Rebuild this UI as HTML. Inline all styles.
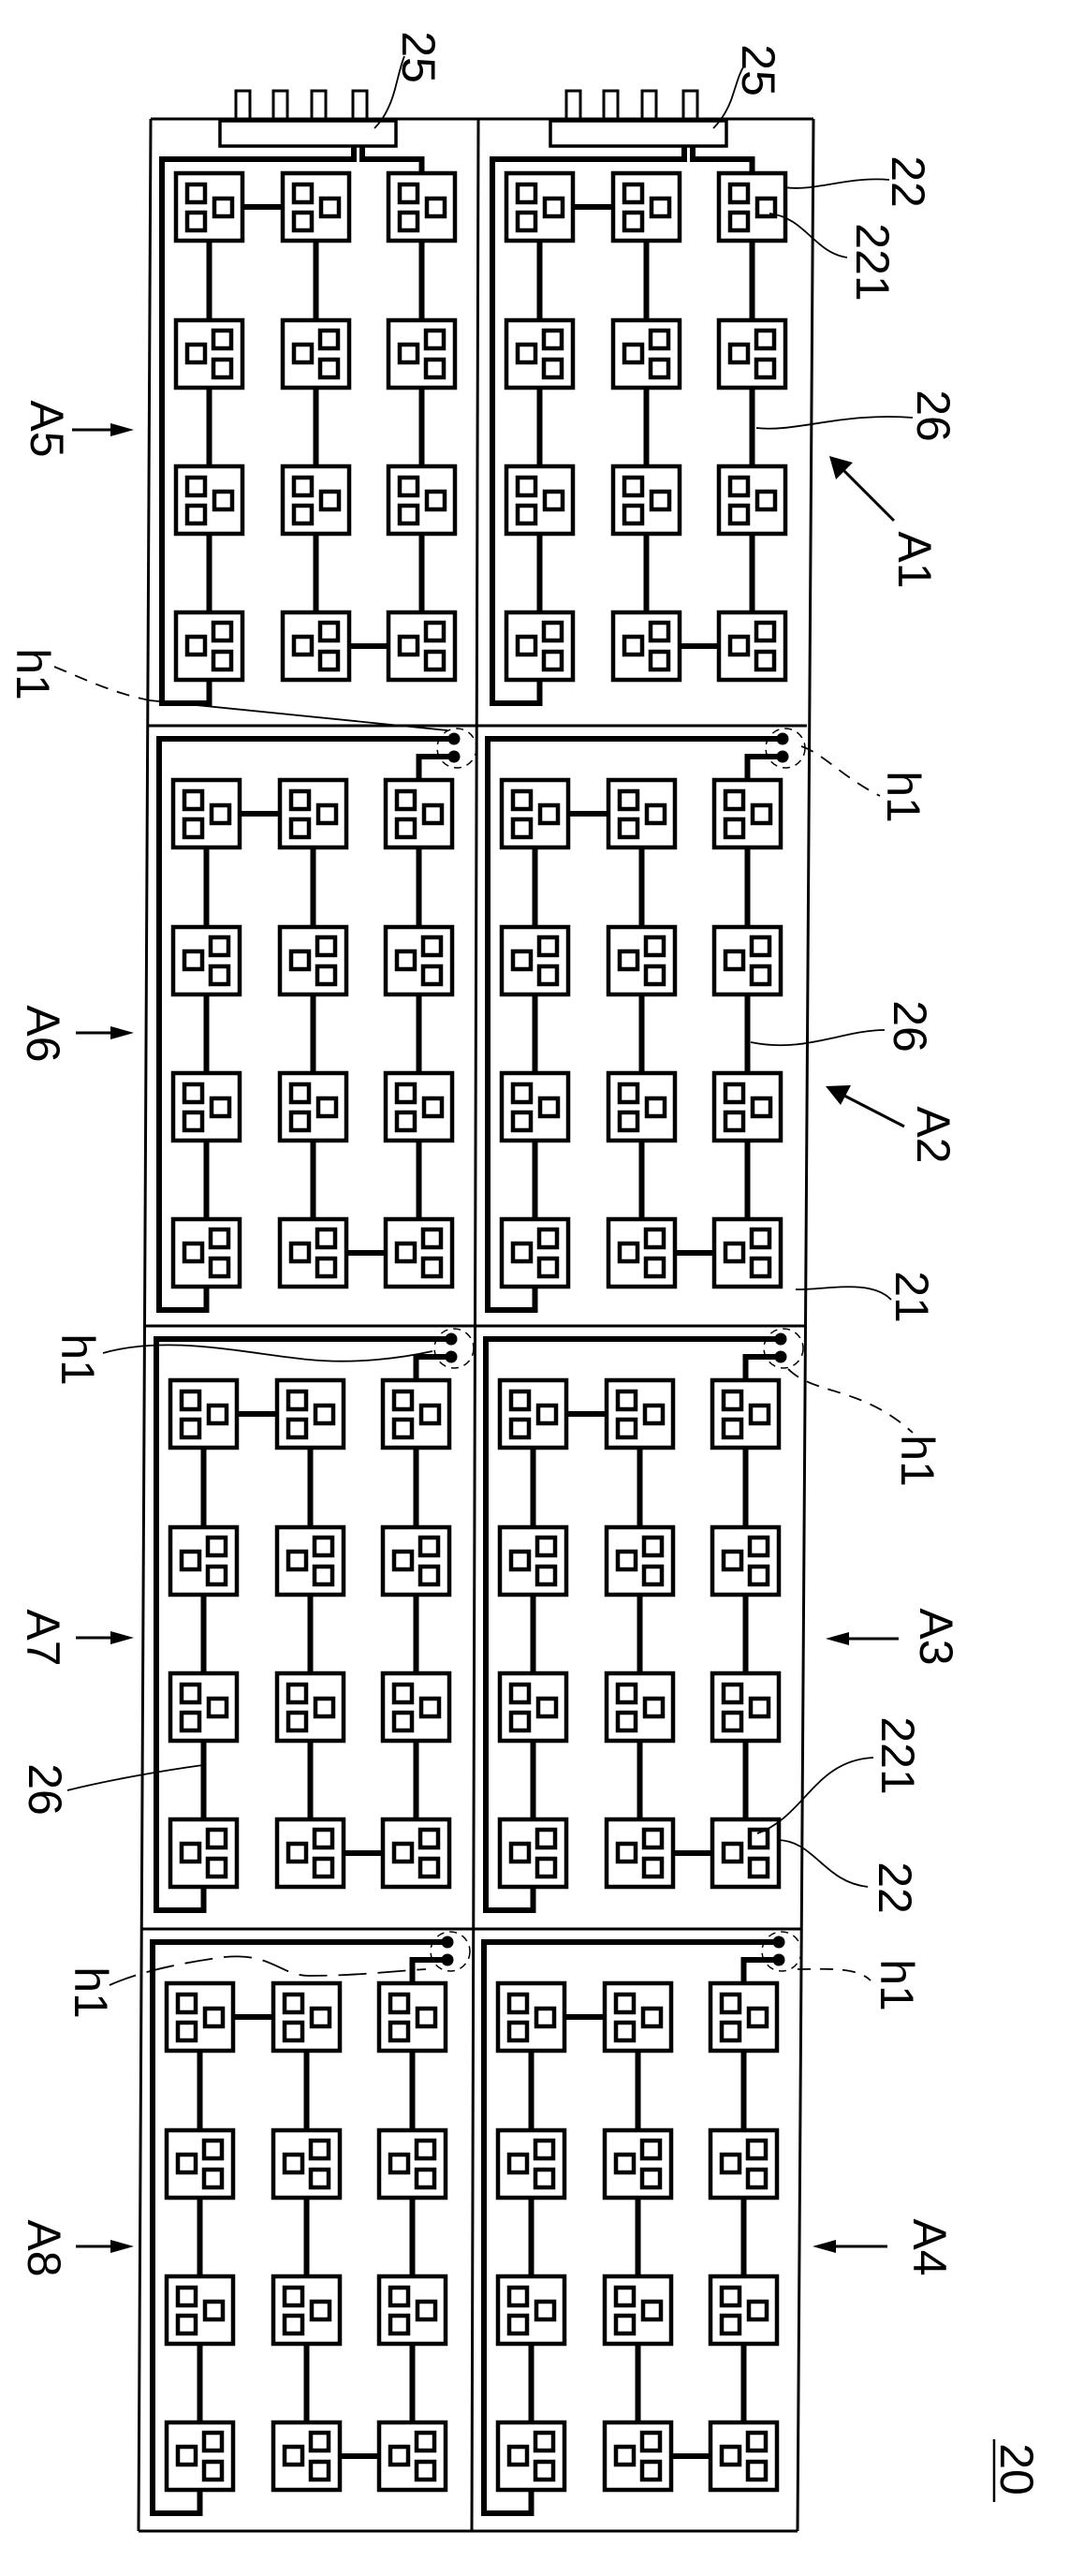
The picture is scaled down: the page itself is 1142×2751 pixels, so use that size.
<!DOCTYPE html>
<html><head><meta charset="utf-8">
<style>
html,body{margin:0;padding:0;background:#fff;}
svg{display:block;}
text{font-family:"Liberation Sans",sans-serif;font-size:50px;fill:#000;}
</style></head>
<body>
<svg width="1142" height="2751" viewBox="0 0 1142 2751" xmlns="http://www.w3.org/2000/svg">
<defs>
  <g id="chipA">
    <rect x="0" y="0" width="71" height="72" fill="#fff" stroke="#000" stroke-width="4.5"/>
    <rect x="12" y="12" width="19" height="19" fill="none" stroke="#000" stroke-width="4.5"/>
    <rect x="12" y="42" width="19" height="19" fill="none" stroke="#000" stroke-width="4.5"/>
    <rect x="41" y="27" width="19" height="19" fill="none" stroke="#000" stroke-width="4.5"/>
  </g>
  <g id="chipB">
    <rect x="0" y="0" width="71" height="72" fill="#fff" stroke="#000" stroke-width="4.5"/>
    <rect x="12" y="26" width="19" height="19" fill="none" stroke="#000" stroke-width="4.5"/>
    <rect x="40" y="11" width="19" height="19" fill="none" stroke="#000" stroke-width="4.5"/>
    <rect x="40" y="42" width="19" height="19" fill="none" stroke="#000" stroke-width="4.5"/>
  </g>
  <g id="grid">
    <g stroke="#000" stroke-width="6" fill="none">
      <path d="M62.5,130V215M62.5,287V371M62.5,443V527"/>
      <path d="M176.5,130V215M176.5,287V371M176.5,443V527"/>
      <path d="M289.5,130V215M289.5,287V371M289.5,443V527"/>
      <path d="M98,94H141M212,563H254"/>
    </g>
    <use href="#chipA" x="27" y="58"/><use href="#chipA" x="141" y="58"/><use href="#chipA" x="254" y="58"/>
    <use href="#chipB" x="27" y="215"/><use href="#chipB" x="141" y="215"/><use href="#chipB" x="254" y="215"/>
    <use href="#chipA" x="27" y="371"/><use href="#chipA" x="141" y="371"/><use href="#chipA" x="254" y="371"/>
    <use href="#chipB" x="27" y="527"/><use href="#chipB" x="141" y="527"/><use href="#chipB" x="254" y="527"/>
  </g>
  <g id="topcell">
    <path d="M217,29V43H12V624H62.5V599" stroke="#000" stroke-width="6" fill="none"/>
    <path d="M226,29V43H289.5V58" stroke="#000" stroke-width="6" fill="none"/>
    <rect x="91" y="-30" width="15" height="30" fill="#fff" stroke="#000" stroke-width="3"/>
    <rect x="131" y="-30" width="15" height="30" fill="#fff" stroke="#000" stroke-width="3"/>
    <rect x="172" y="-30" width="15" height="30" fill="#fff" stroke="#000" stroke-width="3"/>
    <rect x="216" y="-30" width="15" height="30" fill="#fff" stroke="#000" stroke-width="3"/>
    <rect x="74" y="2" width="188" height="27" fill="#fff" stroke="#000" stroke-width="3.5"/>
    <use href="#grid"/>
  </g>
  <g id="cell">
    <path d="M327,14H12V624H62.5V599" stroke="#000" stroke-width="6" fill="none"/>
    <path d="M327,33H289.5V58" stroke="#000" stroke-width="6" fill="none"/>
    <circle cx="327" cy="14" r="6.5" fill="#000"/>
    <circle cx="327" cy="33" r="6.5" fill="#000"/>
    <circle cx="330" cy="24" r="21" fill="none" stroke="#000" stroke-width="1.5" stroke-dasharray="8,6"/>
    <use href="#grid"/>
  </g>
</defs>

<g stroke="#000" stroke-width="3" fill="none">
  <path d="M161,127L148,2703"/>
  <path d="M511,127L504,2703"/>
  <path d="M869,127L852,2703"/>
  <path d="M161,127H869"/>
  <path d="M158,775H862"/>
  <path d="M155,1416H859"/>
  <path d="M151,2060H856"/>
  <path d="M148,2703H852"/>
</g>

<use href="#topcell" x="161" y="127"/>
<use href="#topcell" x="514" y="127"/>
<use href="#cell" x="158" y="775"/>
<use href="#cell" x="509" y="775"/>
<use href="#cell" x="155" y="1416"/>
<use href="#cell" x="507" y="1416"/>
<use href="#cell" x="151" y="2060"/>
<use href="#cell" x="505" y="2060"/>

<g stroke="#000" stroke-width="1.8" fill="none">
  <path d="M400,137C412,125 418,110 422,95C426,80 428,70 432,60"/>
  <path d="M762,137C774,125 780,112 784,98C788,86 790,78 795,70"/>
  <path d="M838,200C870,205 905,188 950,192"/>
  <path d="M822,228C860,232 870,270 905,275"/>
  <path d="M808,457C850,462 900,440 975,446"/>
  <path d="M58,712C90,725 120,740 160,748" stroke-dasharray="14,10"/>
  <path d="M160,748L478,780"/>
  <path d="M856,797C880,805 900,830 940,850" stroke-dasharray="14,10"/>
  <path d="M802,1113C860,1125 900,1100 945,1100"/>
  <path d="M850,1377C880,1378 930,1365 952,1388"/>
  <path d="M110,1445C180,1425 260,1445 330,1452C380,1457 430,1450 462,1443"/>
  <path d="M842,1462C870,1490 920,1480 975,1530" stroke-dasharray="14,10"/>
  <path d="M217,1885C180,1890 120,1900 72,1912"/>
  <path d="M809,1958C860,1940 870,1880 933,1877"/>
  <path d="M830,1965C870,1965 880,2010 927,2015"/>
  <path d="M117,2120C150,2105 200,2095 240,2090C290,2085 300,2110 330,2110C380,2110 420,2105 455,2103" stroke-dasharray="30,12"/>
  <path d="M852,2103C880,2103 915,2100 930,2115" stroke-dasharray="14,10"/>
  <path d="M1062,2605V2672" stroke-width="2.5"/>
</g>

<g stroke="#000" stroke-width="3" fill="#000">
  <line x1="77" y1="459" x2="125" y2="459"/><polygon points="143,459 118,452 118,466" stroke="none"/>
  <line x1="81" y1="1103" x2="125" y2="1103"/><polygon points="143,1103 118,1096 118,1110" stroke="none"/>
  <line x1="81" y1="1749" x2="125" y2="1749"/><polygon points="143,1749 118,1742 118,1756" stroke="none"/>
  <line x1="81" y1="2399" x2="125" y2="2399"/><polygon points="143,2399 118,2392 118,2406" stroke="none"/>
  <line x1="960" y1="1750" x2="900" y2="1750"/><polygon points="882,1750 907,1743 907,1757" stroke="none"/>
  <line x1="948" y1="2399" x2="886" y2="2399"/><polygon points="868,2399 893,2392 893,2406" stroke="none"/>
  <line x1="955" y1="556" x2="900" y2="501"/><polygon points="886,487 893,512 911,494" stroke="none"/>
  <line x1="966" y1="1203" x2="898" y2="1168"/><polygon points="882,1160 898,1180 909,1159" stroke="none"/>
</g>

<g text-anchor="middle" dominant-baseline="central">
  <text transform="translate(447,61) rotate(90)">25</text>
  <text transform="translate(810,75) rotate(90)">25</text>
  <text transform="translate(970,194) rotate(90)">22</text>
  <text transform="translate(932,280) rotate(90)">221</text>
  <text transform="translate(997,444) rotate(90)">26</text>
  <text transform="translate(977,598) rotate(90)">A1</text>
  <text transform="translate(50,458) rotate(90)">A5</text>
  <text transform="translate(35,720) rotate(90)">h1</text>
  <text transform="translate(965,851) rotate(90)">h1</text>
  <text transform="translate(972,1096) rotate(90)">26</text>
  <text transform="translate(997,1212) rotate(90)">A2</text>
  <text transform="translate(46,1104) rotate(90)">A6</text>
  <text transform="translate(974,1385) rotate(90)">21</text>
  <text transform="translate(83,1452) rotate(90)">h1</text>
  <text transform="translate(980,1560) rotate(90)">h1</text>
  <text transform="translate(46,1749) rotate(90)">A7</text>
  <text transform="translate(1000,1748) rotate(90)">A3</text>
  <text transform="translate(48,1911) rotate(90)">26</text>
  <text transform="translate(959,1875) rotate(90)">221</text>
  <text transform="translate(956,2016) rotate(90)">22</text>
  <text transform="translate(97,2128) rotate(90)">h1</text>
  <text transform="translate(958,2120) rotate(90)">h1</text>
  <text transform="translate(47,2401) rotate(90)">A8</text>
  <text transform="translate(993,2400) rotate(90)">A4</text>
  <text transform="translate(1086,2637) rotate(90)">20</text>
</g>
</svg>
</body></html>
